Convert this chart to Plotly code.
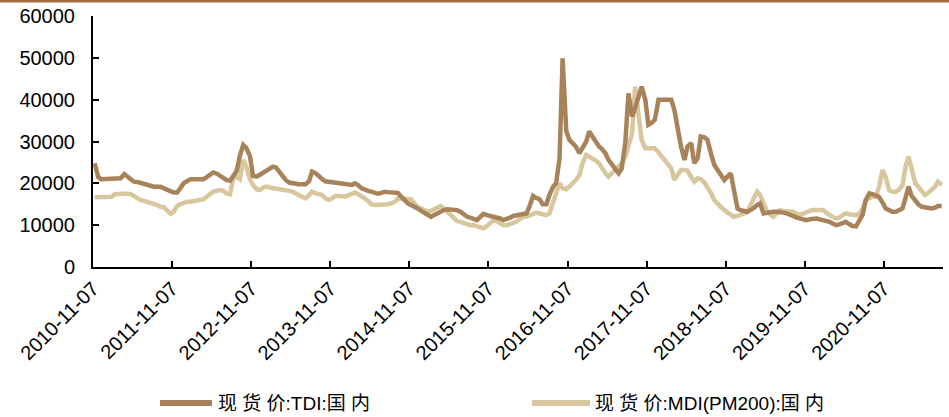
import pandas as pd
import plotly.graph_objects as go

# semi-monthly readings (1st / 15th), starting 2010-11-15
tdi_2010 = [24800, 21500, 21000]
tdi_2011 = [21000, 21000, 21000, 21000, 21000, 21200, 22200, 21600, 20800, 20400, 20300, 20100,
            20000, 19600, 19300, 19200, 19200, 19200, 18800, 18400, 18200, 17800, 17800, 19000]
tdi_2012 = [20100, 20500, 21000, 21000, 21000, 21000, 21000, 21500, 22000, 22600, 22300, 21800,
            21200, 20800, 20600, 21800, 23000, 26500, 29200, 28500, 26500, 21800, 21600, 22000]
tdi_2013 = [22500, 22800, 23400, 24000, 23800, 22800, 22000, 20800, 20200, 20000, 19800, 19800,
            19800, 19800, 20500, 22800, 22400, 21600, 21000, 20500, 20400, 20200, 20100, 20000]
tdi_2014 = [20000, 19800, 19700, 19600, 20000, 19600, 18800, 18400, 18200, 18000, 17800, 17500,
            17700, 18000, 17900, 17800, 17800, 17700, 16800, 16000, 15200, 14800, 14500, 14000]
tdi_2015 = [13400, 13000, 12500, 12000, 12400, 12800, 13200, 13600, 13800, 13800, 13800, 13600,
            13200, 12600, 12000, 11800, 11600, 11200, 12000, 12700, 12400, 12200, 12000, 12000]
tdi_2016 = [11600, 11200, 11400, 11800, 12200, 12400, 12600, 12600, 12800, 14500, 17000, 16500,
            16200, 15000, 15000, 17200, 19200, 20000, 26000, 49900, 32500, 30400, 29400, 28800]
tdi_2017 = [27200, 28500, 30000, 32400, 31200, 30400, 28800, 28200, 27200, 25600, 24400, 23200,
            22400, 23500, 30000, 41500, 36000, 38000, 41000, 43100, 40000, 34000, 34500, 35200]
tdi_2018 = [40000, 40000, 40000, 40000, 40000, 37600, 32000, 28800, 25600, 28800, 29600, 24800,
            26000, 31200, 31000, 30400, 27000, 24500, 23200, 22000, 20800, 21600, 22400, 18500]
tdi_2019 = [14000, 13600, 13400, 13200, 13600, 14000, 14800, 15200, 12800, 13000, 13200, 13200,
            13200, 13200, 13000, 12800, 12600, 12200, 11800, 11600, 11400, 11200, 11400, 11600]
tdi_2020 = [11600, 11400, 11200, 11200, 10800, 10400, 10000, 10200, 10600, 10800, 10200, 9800,
            9700, 10800, 12500, 16000, 17600, 17400, 17200, 16800, 15400, 14000, 13600, 13200]
tdi_2021 = [13200, 13600, 14000, 16500, 19200, 17000, 15800, 15000, 14400, 14200, 14000, 14000,
            14200, 14600, 14600]

mdi_2010 = [16700, 16700, 16600]
mdi_2011 = [16700, 16700, 16800, 17400, 17500, 17500, 17500, 17500, 17400, 17000, 16400, 16000,
            15800, 15600, 15400, 15200, 14800, 14400, 14300, 13500, 12700, 13200, 14600, 15000]
mdi_2012 = [15400, 15600, 15600, 15800, 16000, 16000, 16200, 16800, 17400, 18000, 18200, 18400,
            18200, 17600, 17400, 21000, 21600, 21000, 25600, 24000, 21000, 19600, 18600, 18400]
mdi_2013 = [19000, 19200, 19000, 18900, 18800, 18800, 18600, 18400, 18200, 18000, 17600, 17200,
            17000, 16400, 17200, 18000, 17600, 17400, 17200, 16400, 16000, 16400, 17000, 17000]
mdi_2014 = [16800, 16800, 17200, 17600, 17800, 17400, 17000, 16400, 15800, 15000, 14800, 14800,
            14800, 14800, 15000, 15200, 15600, 16400, 16400, 16300, 16200, 16200, 15200, 14400]
mdi_2015 = [14000, 13600, 13200, 13400, 13800, 14200, 14600, 14000, 13200, 12800, 12000, 11000,
            10800, 10500, 10200, 10000, 10000, 9800, 9500, 9250, 9800, 10500, 11200, 11000]
mdi_2016 = [10500, 10000, 10000, 10200, 10450, 10800, 11400, 12000, 12000, 12400, 12800, 13000,
            12800, 12600, 12400, 12800, 15200, 17000, 20000, 18800, 18600, 19200, 20000, 20800]
mdi_2017 = [22000, 24800, 26800, 26400, 26000, 25500, 24800, 23500, 22400, 21600, 22400, 23200,
            24000, 24800, 26400, 29000, 32000, 43100, 36000, 30400, 28400, 28400, 28400, 28400]
mdi_2018 = [27400, 26400, 25400, 24400, 23600, 20800, 22000, 23200, 23200, 23000, 21500, 20400,
            21200, 21000, 20200, 19200, 17600, 16000, 15000, 14400, 13600, 13000, 12400, 12000]
mdi_2019 = [12200, 12400, 12800, 13200, 14800, 16400, 18000, 17200, 15200, 13600, 12600, 12000,
            12800, 13600, 13400, 13200, 13200, 13200, 12800, 12400, 12800, 13200, 13400, 13600]
mdi_2020 = [13600, 13600, 13600, 13000, 12400, 12000, 11600, 11800, 12400, 12800, 12600, 12400,
            12400, 12600, 14000, 16000, 16400, 16800, 16800, 19000, 23200, 21600, 18400, 18000]
mdi_2021 = [18000, 18400, 19600, 24000, 26400, 23200, 20000, 19200, 18000, 17200, 17800, 18400,
            19200, 20400, 19600]

tdi = (tdi_2010 + tdi_2011 + tdi_2012 + tdi_2013 + tdi_2014 + tdi_2015 + tdi_2016
       + tdi_2017 + tdi_2018 + tdi_2019 + tdi_2020 + tdi_2021)
mdi = (mdi_2010 + mdi_2011 + mdi_2012 + mdi_2013 + mdi_2014 + mdi_2015 + mdi_2016
       + mdi_2017 + mdi_2018 + mdi_2019 + mdi_2020 + mdi_2021)
dates = pd.date_range("2010-11-15", periods=len(tdi), freq="SMS")

tick_dates = [f"{y}-11-07" for y in range(2010, 2021)]
y_ticks = [0, 10000, 20000, 30000, 40000, 50000, 60000]
y_labels = [str(v) for v in y_ticks]

names = ["现 货 价:TDI:国 内", "现 货 价:MDI(PM200):国 内"]
colors = ["#A8835A", "#D8C69D"]


# pixel helpers for the plot box (l=93, r=943, t=16, b=267)
def px(x):
    return (x - 93) / 850


def py(y):
    return (267 - y) / 251


fig = go.Figure()
fig.add_trace(go.Scatter(x=dates, y=mdi, mode="lines", name=names[1],
                         line=dict(color=colors[1], width=4.5)))
fig.add_trace(go.Scatter(x=dates, y=tdi, mode="lines", name=names[0],
                         line=dict(color=colors[0], width=4.5)))

shapes = [
    dict(type="rect", xref="paper", yref="paper", x0=px(0), x1=px(949), y0=py(2.5), y1=py(0),
         fillcolor="#9E6D40", line=dict(width=0), layer="above"),
    dict(type="line", xref="paper", yref="paper", x0=px(160), x1=px(212), y0=py(403), y1=py(403),
         line=dict(color=colors[0], width=6)),
    dict(type="line", xref="paper", yref="paper", x0=px(532), x1=px(590), y0=py(403), y1=py(403),
         line=dict(color=colors[1], width=6)),
]
annotations = [
    dict(xref="paper", yref="paper", x=px(216), y=py(403), text=names[0], showarrow=False,
         xanchor="left", yanchor="middle", font=dict(size=19, color="#000000")),
    dict(xref="paper", yref="paper", x=px(593), y=py(403), text=names[1], showarrow=False,
         xanchor="left", yanchor="middle", font=dict(size=19, color="#000000")),
]

fig.update_layout(
    width=949,
    height=417,
    margin=dict(l=93, r=6, t=16, b=150),
    paper_bgcolor="#ffffff",
    plot_bgcolor="#ffffff",
    showlegend=False,
    font=dict(family="Liberation Sans, Noto Sans CJK SC, sans-serif", size=20, color="#000000"),
    shapes=shapes,
    annotations=annotations,
    xaxis=dict(
        type="date",
        range=["2010-11-07", "2021-08-07"],
        tickvals=tick_dates,
        ticktext=tick_dates,
        tickangle=-45,
        ticks="inside",
        ticklen=6,
        tickwidth=2,
        tickcolor="#000000",
        showline=True,
        linewidth=2,
        linecolor="#000000",
        showgrid=False,
        zeroline=False,
        automargin=False,
        tickfont=dict(size=20),
    ),
    yaxis=dict(
        range=[0, 60000],
        tickvals=y_ticks,
        ticktext=y_labels,
        ticks="inside",
        ticklen=6,
        tickwidth=2,
        tickcolor="#000000",
        showline=True,
        linewidth=2,
        linecolor="#000000",
        showgrid=False,
        zeroline=False,
        automargin=False,
        ticklabelstandoff=12,
        tickfont=dict(size=20),
    ),
)

# the page body has a default 8px margin; drop it so the figure fills the window
fig.write_html(
    "out.html",
    config={"displayModeBar": False},
    post_script="document.body.style.margin = '0';",
)
